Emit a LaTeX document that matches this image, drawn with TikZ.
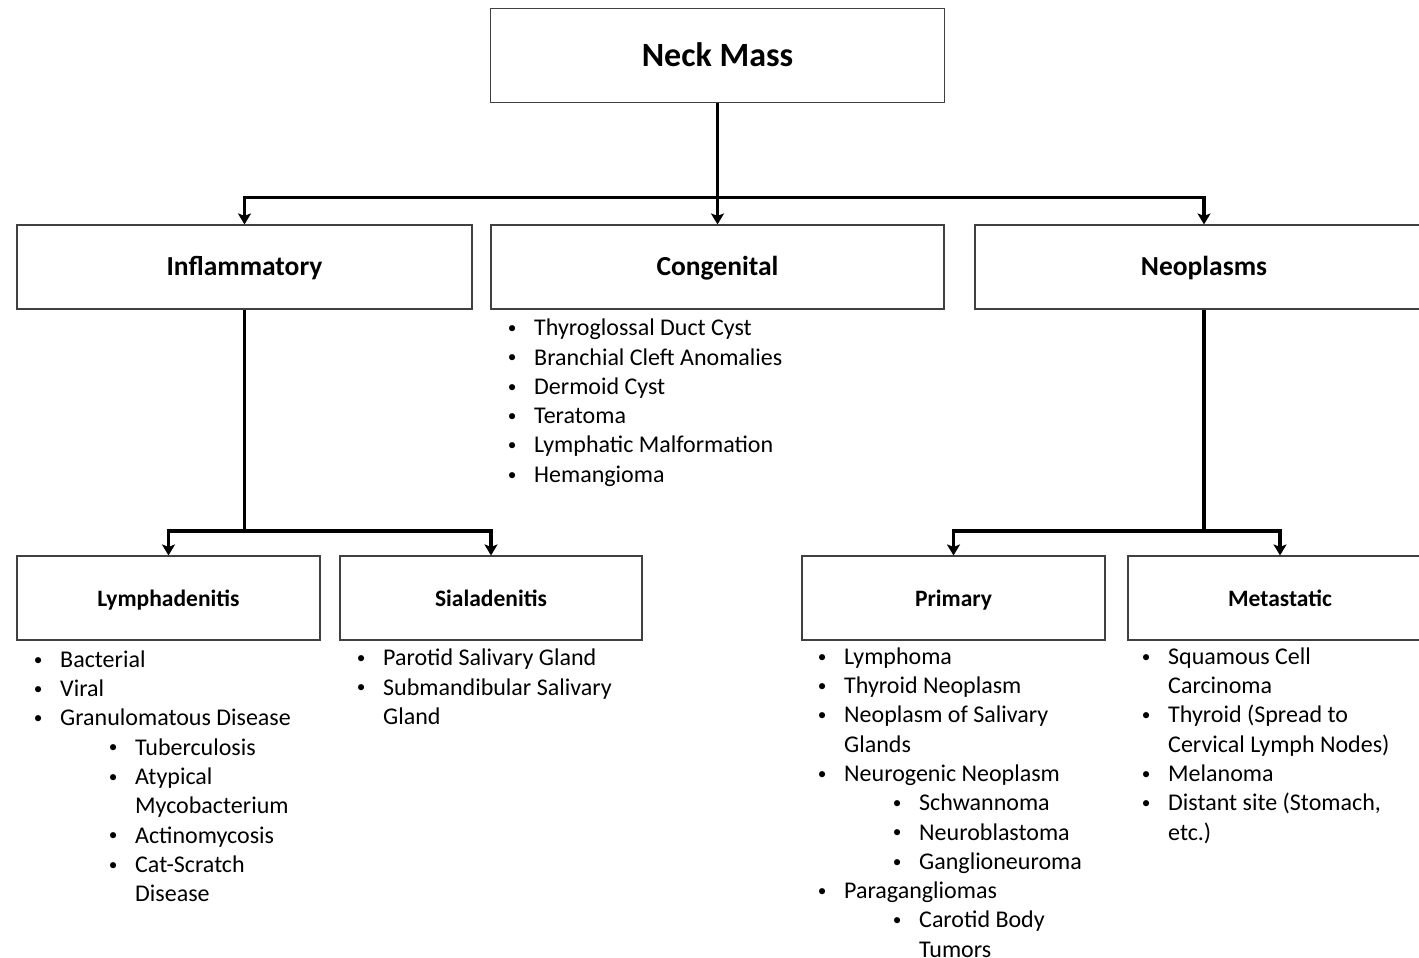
\documentclass[tikz,border=0pt]{standalone}
\usepackage{fontspec}
\usepackage{graphicx}
\setmainfont{Carlito}
\usetikzlibrary{arrows.meta}
\newcommand\mybul{\makebox[0pt]{\raisebox{2.2pt}{\scalebox{0.72}{\textbullet}}}}
\newcommand\bI[1]{\strut\mybul\hspace{22pt}#1}
\newcommand\cI[1]{\strut\hspace*{22pt}#1}
\newcommand\bII[1]{\strut\hspace*{75pt}\mybul\hspace{22pt}#1}
\newcommand\cII[1]{\strut\hspace*{97pt}#1}
\begin{document}
\begin{tikzpicture}[x=1pt,y=-1pt,
  box/.style={draw=black!75,line width=1.1pt,inner sep=0pt},
  lvlA/.style={box,minimum height=84pt,text height=20pt,text depth=2.5pt,font=\bfseries\fontsize{27.5}{32}\selectfont},
  lvlB/.style={box,minimum height=84pt,text height=17.5pt,text depth=1.5pt,font=\bfseries\fontsize{23.5}{28}\selectfont},
  conn/.style={line width=3.2pt},
  arr/.style={line width=3.2pt,-{Stealth[length=11pt,width=13pt,inset=2.5pt]}},
  lst/.style={anchor=north west,align=left,inner sep=0pt,font=\fontsize{24}{29.3}\selectfont}]
\useasboundingbox (0,0) rectangle (1419,958);
\clip (0,0) rectangle (1419,958);
% boxes
\node[box,minimum width=454pt,minimum height=94pt,text height=24pt,text depth=2pt,font=\bfseries\fontsize{34}{40}\selectfont] (neck) at (717.5,55.5) {Neck Mass};
\node[lvlA,minimum width=455pt] (infl) at (244.5,267) {Inflammatory};
\node[lvlA,minimum width=453pt] (cong) at (717.5,267) {Congenital};
\node[lvlA,minimum width=458pt] (neo) at (1204,267) {Neoplasms};
\node[lvlB,minimum width=303pt] (lymph) at (168.5,598) {Lymphadenitis};
\node[lvlB,minimum width=302pt] (sial) at (491,598) {Sialadenitis};
\node[lvlB,minimum width=303pt] (prim) at (953.5,598) {Primary};
\node[lvlB,minimum width=304pt] (meta) at (1280,598) {Metastatic};
% junctions
\coordinate (j1) at (717.5,197.5);
\coordinate (j2) at (244.5,531);
\coordinate (j3) at (1204,531);
% connectors
\draw[arr] (neck.south) -- (cong.north);
\draw[arr] (j1) -| (infl.north);
\draw[arr] (j1) -| (neo.north);
\draw[conn] (infl.south) -- (j2);
\draw[arr] (j2) -| (lymph.north);
\draw[arr] (j2) -| (sial.north);
\draw[conn] (neo.south) -- (j3);
\draw[arr] (j3) -| (prim.north);
\draw[arr] (j3) -| (meta.north);
% lists
\node[lst] (congL) at (512,315) {\bI{Thyroglossal Duct Cyst}\\ \bI{Branchial Cleft Anomalies}\\ \bI{Dermoid Cyst}\\ \bI{Teratoma}\\ \bI{Lymphatic Malformation}\\ \bI{Hemangioma}};
\node[lst] (lymphL) at (38,646.5) {\bI{Bacterial}\\ \bI{Viral}\\ \bI{Granulomatous Disease}\\ \bII{Tuberculosis}\\ \bII{Atypical}\\ \cII{Mycobacterium}\\ \bII{Actinomycosis}\\ \bII{Cat-Scratch}\\ \cII{Disease}};
\node[lst] (sialL) at (361,645) {\bI{Parotid Salivary Gland}\\ \bI{Submandibular Salivary}\\ \cI{Gland}};
\node[lst] (primL) at (822,643.5) {\bI{Lymphoma}\\ \bI{Thyroid Neoplasm}\\ \bI{Neoplasm of Salivary}\\ \cI{Glands}\\ \bI{Neurogenic Neoplasm}\\ \bII{Schwannoma}\\ \bII{Neuroblastoma}\\ \bII{Ganglioneuroma}\\ \bI{Paragangliomas}\\ \bII{Carotid Body}\\ \cII{Tumors}};
\node[lst] (metaL) at (1146,643.5) {\bI{Squamous Cell}\\ \cI{Carcinoma}\\ \bI{Thyroid (Spread to}\\ \cI{Cervical Lymph Nodes)}\\ \bI{Melanoma}\\ \bI{Distant site (Stomach,}\\ \cI{etc.)}};
\end{tikzpicture}
\end{document}
